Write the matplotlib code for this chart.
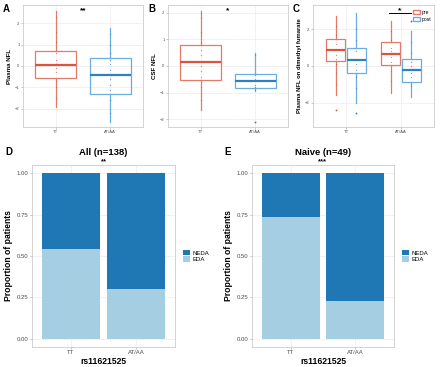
import matplotlib
matplotlib.use("Agg")
import matplotlib.pyplot as plt
from matplotlib.patches import Patch

plt.rcParams['font.family'] = ['Liberation Sans', 'DejaVu Sans']

# ---------------- data ----------------
genotypes = ["TT", "AT/AA"]

# Panel A: Plasma NFL box stats (q1, med, q3, whislo, whishi)
a_stats = {"TT": (-0.54, 0.05, 0.71, -1.89, 2.56),
           "AT/AA": (-1.30, -0.42, 0.36, -2.59, 1.75)}
a_points = {"TT": [2.3, 1.6, 1.1, 0.6, 0.3, 0.1, -0.1, -0.3, -0.7, -1.0, -1.5],
            "AT/AA": [1.5, 1.0, 0.6, 0.3, 0.1, -0.2, -0.6, -0.9, -1.1, -1.6, -2.2]}

# Panel B: CSF NFL
b_stats = {"TT": (-0.53, 0.14, 0.79, -1.66, 2.08),
           "AT/AA": (-0.84, -0.55, -0.30, -0.95, 0.50)}
b_points = {"TT": [1.8, 1.3, 0.9, 0.6, 0.4, 0.2, 0.0, -0.2, -0.4, -0.8, -1.3],
            "AT/AA": [0.4, -0.35, -0.5, -0.7, -0.8, -0.9]}
b_fliers = {"TT": [], "AT/AA": [-2.10]}

# Panel C: Plasma NFL on dimethyl fumarate, pre / post
c_groups = ["pre", "post"]
c_stats = {("TT", "pre"): (0.29, 0.87, 1.45, -1.58, 2.72),
           ("TT", "post"): (-0.40, 0.33, 1.00, -2.03, 2.87),
           ("AT/AA", "pre"): (0.05, 0.64, 1.29, -1.45, 2.45),
           ("AT/AA", "post"): (-0.89, -0.22, 0.36, -1.71, 1.92)}
c_fliers = {("TT", "pre"): [-2.40],
            ("TT", "post"): [-2.58],
            ("AT/AA", "pre"): [],
            ("AT/AA", "post"): [2.45]}
c_points = {("TT", "pre"): [2.2, 1.7, 1.2, 0.9, 0.6, 0.4, 0.1, -0.4, -1.0],
            ("TT", "post"): [2.0, 1.4, 0.8, 0.4, 0.1, -0.2, -0.6, -1.2],
            ("AT/AA", "pre"): [1.9, 1.4, 1.0, 0.8, 0.5, 0.2, -0.3, -0.8],
            ("AT/AA", "post"): [1.3, 0.7, 0.2, 0.0, -0.4, -0.6, -1.1]}

# Panels D/E: proportions
status = ["NEDA", "EDA"]
d_eda = [0.54, 0.30]
e_eda = [0.738, 0.229]

RED_BOX = "#E27A6A"
RED_MED = "#D9553F"
BLUE_BOX = "#6AAEE0"
BLUE_MED = "#2F7FC1"
NEDA_C = "#1F78B4"
EDA_C = "#A6CEE3"
GRID = "#E3E3E3"
BORDER = "#CCCCCC"

fig = plt.figure(figsize=(4.4, 3.67), dpi=100)


def style_axes(ax, tick_fs):
    for s in ax.spines.values():
        s.set_color(BORDER)
        s.set_linewidth(0.6)
    ax.set_facecolor("white")
    ax.grid(True, color=GRID, linewidth=0.5, linestyle=(0, (2, 1)))
    ax.set_axisbelow(True)
    ax.tick_params(axis="both", length=1.5, width=0.4, colors="#999999",
                   labelsize=tick_fs, labelcolor="#4D4D4D", pad=1)


def make_stats(st, fliers=None):
    q1, med, q3, lo, hi = st
    return dict(q1=q1, med=med, q3=q3, whislo=lo, whishi=hi,
                fliers=fliers or [], mean=med)


def draw_box(ax, pos, st, fl, pts, width, boxc, medc):
    ax.bxp([make_stats(st, fl)], positions=[pos], widths=width,
           showcaps=False, showfliers=True, patch_artist=True,
           boxprops=dict(facecolor="none", edgecolor=boxc, linewidth=0.9),
           whiskerprops=dict(color=boxc, linewidth=0.9),
           medianprops=dict(color=medc, linewidth=1.6),
           flierprops=dict(marker="o", markersize=1.3, markerfacecolor=medc,
                           markeredgecolor="none"))
    ax.scatter([pos] * len(pts), pts, s=0.8, color=medc, alpha=0.7,
               linewidths=0, zorder=3)


# ---------- Panel A ----------
axA = fig.add_axes([0.0523, 0.654, 0.2727, 0.3324])
style_axes(axA, 3)
cols = [(RED_BOX, RED_MED), (BLUE_BOX, BLUE_MED)]
for i, g in enumerate(genotypes):
    draw_box(axA, i + 1, a_stats[g], [], a_points[g], 0.75, *cols[i])
axA.set_xlim(0.4, 2.6)
axA.set_ylim(-2.84, 2.84)
axA.set_yticks([-2, -1, 0, 1, 2])
axA.set_xticks([1, 2])
axA.set_xticklabels(genotypes)
axA.set_ylabel("Plasma NFL", fontsize=4.4, fontweight="bold", labelpad=2)
axA.text(0.5, 0.95, "**", transform=axA.transAxes, ha="center", va="center",
         fontsize=6, fontweight="bold")

# ---------- Panel B ----------
axB = fig.add_axes([0.3818, 0.654, 0.2727, 0.3324])
style_axes(axB, 3)
for i, g in enumerate(genotypes):
    draw_box(axB, i + 1, b_stats[g], b_fliers[g], b_points[g], 0.75, *cols[i])
axB.set_xlim(0.4, 2.6)
axB.set_ylim(-2.30, 2.30)
axB.set_yticks([-2, -1, 0, 1, 2])
axB.set_xticks([1, 2])
axB.set_xticklabels(genotypes)
axB.set_ylabel("CSF NFL", fontsize=4.4, fontweight="bold", labelpad=2)
axB.text(0.5, 0.955, "*", transform=axB.transAxes, ha="center", va="center",
         fontsize=6, fontweight="bold")

# ---------- Panel C ----------
axC = fig.add_axes([0.7114, 0.654, 0.275, 0.3324])
style_axes(axC, 3)
offsets = {"pre": -0.19, "post": 0.19}
ccols = {"pre": (RED_BOX, RED_MED), "post": (BLUE_BOX, BLUE_MED)}
for i, g in enumerate(genotypes):
    for grp in c_groups:
        key = (g, grp)
        draw_box(axC, i + 1 + offsets[grp], c_stats[key], c_fliers[key],
                 c_points[key], 0.36, *ccols[grp])
axC.set_xlim(0.4, 2.6)
axC.set_ylim(-3.32, 3.32)
axC.set_yticks([-2, 0, 2])
axC.set_xticks([1, 2])
axC.set_xticklabels(genotypes)
axC.set_ylabel("Plasma NFL on dimethyl fumarate", fontsize=4.2,
               fontweight="bold", labelpad=2)
axC.plot([1.78, 2.18], [2.87, 2.87], color="black", linewidth=0.7)
axC.text(1.98, 3.0, "*", ha="center", va="center", fontsize=6,
         fontweight="bold")
legC = axC.legend(handles=[Patch(facecolor="white", edgecolor=RED_BOX, label="pre"),
                           Patch(facecolor="white", edgecolor=BLUE_BOX, label="post")],
                  loc="upper right", bbox_to_anchor=(1.0, 0.985), frameon=False,
                  fontsize=3.6, handlelength=1.3, handleheight=0.9,
                  handletextpad=0.3, labelspacing=0.4, borderaxespad=0.2)

# ---------- Panels D / E ----------
def stacked(ax, eda, title, stars):
    style_axes(ax, 4.3)
    x = [1, 2]
    neda = [1 - v for v in eda]
    ax.bar(x, eda, width=0.9, color=EDA_C, label="EDA", zorder=2)
    ax.bar(x, neda, bottom=eda, width=0.9, color=NEDA_C, label="NEDA", zorder=2)
    ax.set_xlim(0.4, 2.6)
    ax.set_ylim(-0.05, 1.05)
    ax.set_yticks([0, 0.25, 0.5, 0.75, 1.0])
    ax.set_yticklabels(["0.00", "0.25", "0.50", "0.75", "1.00"])
    ax.set_xticks(x)
    ax.set_xticklabels(genotypes)
    ax.set_xlabel("rs11621525", fontsize=6.2, fontweight="bold", labelpad=1)
    ax.set_ylabel("Proportion of patients", fontsize=6.2, fontweight="bold",
                  labelpad=3)
    ax.text(0.5, 1.066, title, transform=ax.transAxes, ha="center",
            va="center", fontsize=6.8, fontweight="bold")
    ax.text(0.5, 1.018, stars, transform=ax.transAxes, ha="center",
            va="center", fontsize=5.5, fontweight="bold")
    h = [Patch(facecolor=NEDA_C, label="NEDA"), Patch(facecolor=EDA_C, label="EDA")]
    ax.legend(handles=h, loc="center left", bbox_to_anchor=(1.03, 0.5),
              frameon=False, fontsize=4.3, handlelength=1.2, handleheight=1.0,
              handletextpad=0.4, labelspacing=0.1, borderaxespad=0.2)


axD = fig.add_axes([0.0727, 0.0545, 0.325, 0.496])
stacked(axD, d_eda, "All (n=138)", "**")
axE = fig.add_axes([0.5727, 0.0545, 0.3227, 0.496])
stacked(axE, e_eda, "Naive (n=49)", "***")

# panel letters
for lbl, (px, py) in {"A": (3, 9), "B": (148, 9), "C": (293, 9),
                      "D": (5, 152), "E": (224, 152)}.items():
    fig.text(px / 440, 1 - py / 367, lbl, fontsize=7, fontweight="bold",
             ha="left", va="center")

fig.savefig("out.png", dpi=100)
